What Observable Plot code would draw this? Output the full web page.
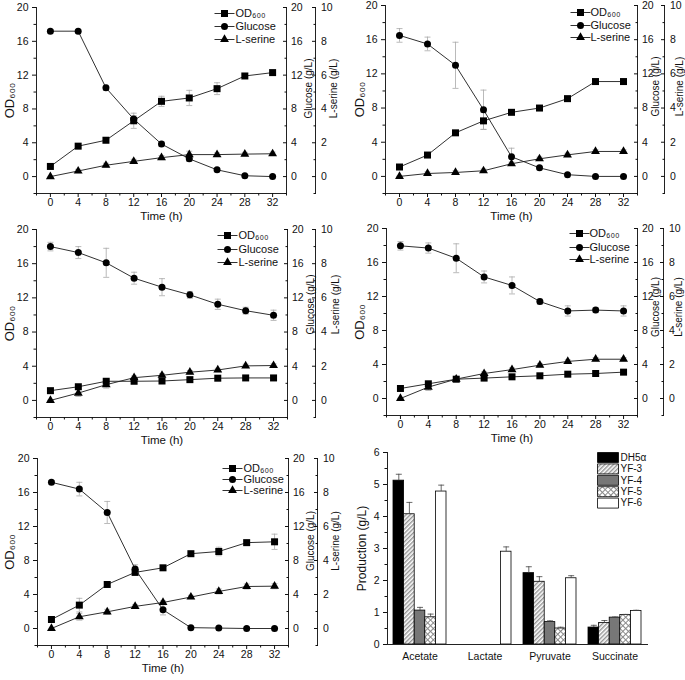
<!DOCTYPE html>
<html><head><meta charset="utf-8">
<script src="https://cdn.jsdelivr.net/npm/d3@7"></script>
<script src="https://cdn.jsdelivr.net/npm/@observablehq/plot@0.6"></script>
<style>
body{margin:0;background:#fff}
#page{position:relative;width:685px;height:680px;overflow:hidden;background:#fff;font-family:'Liberation Sans',Arial,sans-serif}
.panel{position:absolute}
.panel svg{overflow:visible}
</style></head><body><div id="page"></div>
<script>
// ---------- data ----------
const hours = [0, 4, 8, 12, 16, 20, 24, 28, 32];
const seriesNames = ["OD₆₀₀", "Glucose", "L-serine"];
const leftTicks = [0, 4, 8, 12, 16, 20];
const leftMinorTicks = [-2, 2, 6, 10, 14, 18];
const timeTicks = [0, 4, 8, 12, 16, 20, 24, 28, 32];
const timeMinorTicks = [-2, 2, 6, 10, 14, 18, 22, 26, 30, 34];
const leftAxisMax = 20, serineAxisMax = 10;
const serRatio = leftAxisMax / serineAxisMax;

// panel A
const odA = [1.2, 3.6, 4.3, 6.6, 8.9, 9.3, 10.4, 11.9, 12.3];
const odAErr = [0.1, 0.2, 0.3, 0.9, 0.6, 0.9, 0.7, 0.2, 0.2];
const glcA = [17.2, 17.2, 10.5, 6.8, 3.85, 2.1, 0.8, 0.1, 0.0];
const glcAErr = [0.2, 0.2, 0.3, 0.4, 0.3, 0.3, 0.2, 0.1, 0.1];
const serA = [0, 0.33, 0.67, 0.9, 1.12, 1.3, 1.3, 1.33, 1.35];
const serAErr = [0.02, 0.1, 0.12, 0.12, 0.12, 0.2, 0.1, 0.1, 0.1];
// panel B
const odB = [1.1, 2.5, 5.1, 6.5, 7.5, 8.0, 9.1, 11.1, 11.1];
const odBErr = [0.1, 0.2, 0.2, 1.0, 0.2, 0.2, 0.2, 0.2, 0.2];
const glcB = [16.5, 15.5, 13.0, 7.8, 2.3, 1.0, 0.2, 0.0, 0.0];
const glcBErr = [0.8, 0.8, 2.7, 2.3, 1.0, 0.2, 0.1, 0.05, 0.05];
const serB = [0, 0.17, 0.23, 0.33, 0.74, 1.03, 1.26, 1.46, 1.46];
const serBErr = [0.02, 0.1, 0.1, 0.1, 0.1, 0.1, 0.1, 0.1, 0.1];
// panel C
const odC = [1.14, 1.6, 2.24, 2.24, 2.27, 2.43, 2.6, 2.63, 2.63];
const odCErr = [0.1, 0.1, 0.2, 0.1, 0.1, 0.1, 0.1, 0.1, 0.1];
const glcC = [18.0, 17.3, 16.1, 14.3, 13.25, 12.35, 11.25, 10.5, 9.96];
const glcCErr = [0.5, 0.7, 1.7, 0.7, 1.0, 0.4, 0.6, 0.4, 0.6];
const serC = [0, 0.43, 0.92, 1.33, 1.47, 1.65, 1.78, 2.02, 2.04];
const serCErr = [0.02, 0.2, 0.2, 0.1, 0.1, 0.1, 0.1, 0.1, 0.1];
// panel D
const odD = [1.18, 1.73, 2.27, 2.4, 2.55, 2.67, 2.86, 2.94, 3.1];
const odDErr = [0.1, 0.1, 0.2, 0.1, 0.1, 0.1, 0.1, 0.1, 0.1];
const glcD = [17.96, 17.7, 16.5, 14.3, 13.3, 11.4, 10.3, 10.4, 10.3];
const glcDErr = [0.5, 0.6, 1.7, 0.7, 1.0, 0.3, 0.6, 0.3, 0.6];
const serD = [0, 0.67, 1.14, 1.47, 1.7, 1.96, 2.18, 2.31, 2.31];
const serDErr = [0.02, 0.2, 0.1, 0.1, 0.1, 0.1, 0.1, 0.1, 0.1];
// panel E
const odE = [1.06, 2.75, 5.18, 6.6, 7.14, 8.8, 9.06, 10.1, 10.2];
const odEErr = [0.1, 0.8, 0.3, 0.3, 0.2, 0.2, 0.5, 0.3, 0.9];
const glcE = [17.2, 16.4, 13.65, 7.0, 2.2, 0.1, 0.05, 0.0, 0.0];
const glcEErr = [0.2, 0.8, 1.3, 0.5, 0.6, 0.1, 0, 0, 0];
const serE = [0, 0.69, 0.98, 1.3, 1.53, 1.85, 2.18, 2.47, 2.49];
const serEErr = [0, 0.2, 0.15, 0.1, 0.1, 0.1, 0.15, 0.15, 0.15];

// panel F (bars)
const products = ["Acetate", "Lactate", "Pyruvate", "Succinate"];
const strains = ["DH5α", "YF-3", "YF-4", "YF-5", "YF-6"];
const acetate = [5.12, 4.07, 1.06, 0.85, 4.78];
const acetateErr = [0.2, 0.37, 0.1, 0.1, 0.2];
const lactate = [0, 0, 0, 0, 2.9];
const lactateErr = [0, 0, 0, 0, 0.15];
const pyruvate = [2.23, 1.96, 0.70, 0.50, 2.07];
const pyruvateErr = [0.2, 0.16, 0.04, 0.04, 0.08];
const succinate = [0.53, 0.67, 0.84, 0.92, 1.05];
const succinateErr = [0.07, 0.08, 0.02, 0.02, 0.02];
const barTicks = [0, 1, 2, 3, 4, 5, 6];
const barMinorTicks = [0.5, 1.5, 2.5, 3.5, 4.5, 5.5];

// ---------- helpers ----------
const FONT = "'Liberation Sans', Arial, Helvetica, sans-serif";
const capSym = {draw(ctx) { ctx.moveTo(-3, 0); ctx.lineTo(3, 0); }};
const lineSym = {draw(ctx) { ctx.moveTo(-10, 0); ctx.lineTo(10, 0); }};
const swatchSym = {draw(ctx) { ctx.rect(-10.5, -5, 21, 10); }};
const page = document.getElementById("page");
const mid = {textAnchor: "middle", lineAnchor: "middle"};

function place(svg, left, top) {
  const div = document.createElement("div");
  div.className = "panel";
  div.style.left = left + "px";
  div.style.top = top + "px";
  div.appendChild(svg);
  page.appendChild(div);
}

function linePanel(p) {
  const rows = hours.map((t, i) => ({
    t, od: p.od[i], odErr: p.odErr[i], glc: p.glc[i], glcErr: p.glcErr[i],
    ser: p.ser[i] * serRatio, serErr: p.serErr[i] * serRatio
  }));
  const keys = [["od", "odErr", "square", 3.95], ["glc", "glcErr", "circle", 3.5], ["ser", "serErr", "triangle", 3.3]];
  const mL = 36, mT = 8, mB = 30, mR = p.mR;
  const width = p.R - p.L + mL + mR, height = p.B - p.T + mT + mB;
  const marks = [];
  const eb = {stroke: "#a8a8a8", strokeWidth: 0.8};
  for (const [k, e] of keys) {
    const er = rows.filter(d => d[e] > 0);
    marks.push(Plot.ruleX(er, {x: "t", y1: d => d[k] - d[e], y2: d => d[k] + d[e], ...eb}));
    marks.push(Plot.dot(er, {x: "t", y: d => d[k] + d[e], symbol: capSym, ...eb}));
    marks.push(Plot.dot(er, {x: "t", y: d => d[k] - d[e], symbol: capSym, ...eb}));
  }
  for (const [k, , sym, r] of keys) {
    marks.push(Plot.line(rows, {x: "t", y: k, stroke: "#1a1a1a", strokeWidth: 0.9}));
    marks.push(Plot.dot(rows, {x: "t", y: k, symbol: sym, r, fill: "#000", stroke: "none"}));
  }
  const ax = {stroke: "#222", strokeWidth: 1};
  marks.push(
    Plot.frame({anchor: "left", ...ax}),
    Plot.frame({anchor: "bottom", ...ax}),
    Plot.frame({anchor: "right", ...ax}),
    Plot.frame({anchor: "right", dx: p.serDx, ...ax}),
    Plot.axisX({ticks: timeTicks, tickSize: 4, tickPadding: 1, fontSize: 10.5, label: null}),
    Plot.axisX({ticks: timeMinorTicks, tickSize: 2.5, tickFormat: () => "", label: null}),
    Plot.axisY({anchor: "left", ticks: leftTicks, tickSize: 4, tickPadding: 4, fontSize: 10.5, label: null}),
    Plot.axisY({anchor: "left", ticks: leftMinorTicks, tickSize: 2.5, tickFormat: () => "", label: null}),
    Plot.axisY({anchor: "right", ticks: leftTicks, tickSize: -4, tickPadding: 8.5, fontSize: 10.5, label: null}),
    Plot.axisY({anchor: "right", ticks: leftMinorTicks, tickSize: -2.5, tickFormat: () => "", label: null}),
    Plot.axisY({anchor: "right", dx: p.serDx, ticks: leftTicks, tickFormat: d => d / serRatio, tickSize: -4, tickPadding: 9.5, fontSize: 10.5, label: null}),
    Plot.axisY({anchor: "right", dx: p.serDx, ticks: leftMinorTicks, tickSize: -2.5, tickFormat: () => "", label: null}),
    Plot.text([seriesNames[0]], {text: d => d, frameAnchor: "left", rotate: -90, dx: p.odDx, fontSize: 13, ...mid}),
    Plot.text(["Glucose (g/L)"], {text: d => d, frameAnchor: "right", rotate: -90, dx: p.gdx, dy: p.gdy, fontSize: 10, ...mid}),
    Plot.text(["L-serine (g/L)"], {text: d => d, frameAnchor: "right", rotate: -90, dx: p.sdx, dy: p.gdy, fontSize: 10, ...mid}),
    Plot.text(["Time (h)"], {text: d => d, frameAnchor: "bottom", dy: 22.5, fontSize: 11.5, ...mid})
  );
  keys.forEach(([, , sym, r], i) => {
    const pos = {frameAnchor: "top-right", dx: p.lg.m, dy: p.lg.dy[i]};
    marks.push(Plot.dot([0], {...pos, symbol: lineSym, stroke: "#1a1a1a", strokeWidth: 0.9}));
    marks.push(Plot.dot([0], {...pos, symbol: sym, r, fill: "#000", stroke: "none"}));
    marks.push(Plot.text([seriesNames[i]], {text: d => d, frameAnchor: "top-right", dx: p.lg.t, dy: p.lg.dy[i], textAnchor: "start", lineAnchor: "middle", fontSize: 11}));
  });
  const svg = Plot.plot({
    width, height, marginLeft: mL, marginRight: mR, marginTop: mT, marginBottom: mB,
    x: {domain: [-2, 34]}, y: {domain: [-2, 20]},
    style: {fontFamily: FONT, fontSize: "10.5px", background: "transparent", color: "#111", overflow: "visible"},
    marks
  });
  place(svg, p.L - mL, p.T - mT);
}

const panels = [
  {od: odA, odErr: odAErr, glc: glcA, glcErr: glcAErr, ser: serA, serErr: serAErr,
   L: 36, R: 286, T: 7, B: 193, mR: 54, serDx: 29, odDx: -27, gdx: 22, sdx: 47, gdy: -12,
   lg: {m: -62, t: -51, dy: [6, 19, 32]}},
  {od: odB, odErr: odBErr, glc: glcB, glcErr: glcBErr, ser: serB, serErr: serBErr,
   L: 385, R: 637, T: 5, B: 193, mR: 48, serDx: 27, odDx: -26, gdx: 18, sdx: 42, gdy: -13,
   lg: {m: -57, t: -47, dy: [7, 20, 32]}},
  {od: odC, odErr: odCErr, glc: glcC, glcErr: glcCErr, ser: serC, serErr: serCErr,
   L: 36, R: 287, T: 229, B: 417, mR: 54, serDx: 28, odDx: -27, gdx: 23, sdx: 48, gdy: -19,
   lg: {m: -60, t: -49, dy: [6, 20, 33]}},
  {od: odD, odErr: odDErr, glc: glcD, glcErr: glcDErr, ser: serD, serErr: serDErr,
   L: 386, R: 637, T: 228, B: 415, mR: 48, serDx: 26, odDx: -27, gdx: 18, sdx: 41, gdy: -15,
   lg: {m: -58, t: -48, dy: [5, 19, 31]}},
  {od: odE, odErr: odEErr, glc: glcE, glcErr: glcEErr, ser: serE, serErr: serEErr,
   L: 37, R: 288, T: 458, B: 645, mR: 54, serDx: 29, odDx: -28, gdx: 22, sdx: 47, gdy: -11,
   lg: {m: -56, t: -45, dy: [10, 21, 32]}}
];
panels.forEach(linePanel);

// ---------- bar panel ----------
(function barPanel() {
  const values = [acetate, lactate, pyruvate, succinate];
  const errors = [acetateErr, lactateErr, pyruvateErr, succinateErr];
  const rows = products.flatMap((prod, pi) => strains.map((s, si) => ({product: prod, strain: s, value: values[pi][si], err: errors[pi][si]})));
  const L = 387, R = 647, T = 452, B = 644;
  const mL = 47, mT = 8, mB = 30, mR = 38;
  const frameW = R - L, frameH = B - T;
  const band = frameW / products.length;
  const w = 10.6, g0 = (band - strains.length * w) / 2;
  const defs = () => {
    const g = d3.create("svg:g");
    const d = g.append("defs");
    const p3 = d.append("pattern").attr("id", "patYF3").attr("patternUnits", "userSpaceOnUse")
      .attr("width", 3).attr("height", 3).attr("patternTransform", "rotate(45)");
    p3.append("rect").attr("width", 3).attr("height", 3).attr("fill", "#fff");
    p3.append("line").attr("x1", 0.75).attr("x2", 0.75).attr("y1", 0).attr("y2", 3).attr("stroke", "#8a8a8a").attr("stroke-width", 1.3);
    const p5 = d.append("pattern").attr("id", "patYF5").attr("patternUnits", "userSpaceOnUse")
      .attr("width", 4).attr("height", 4).attr("patternTransform", "rotate(45)");
    p5.append("rect").attr("width", 4).attr("height", 4).attr("fill", "#fff");
    p5.append("line").attr("x1", 0.5).attr("x2", 0.5).attr("y1", 0).attr("y2", 4).attr("stroke", "#8a8a8a").attr("stroke-width", 1);
    p5.append("line").attr("x1", 0).attr("x2", 4).attr("y1", 0.5).attr("y2", 0.5).attr("stroke", "#8a8a8a").attr("stroke-width", 1);
    return g.node();
  };
  const marks = [defs];
  strains.forEach((s, i) => {
    marks.push(Plot.barY(rows.filter(d => d.strain === s && d.value > 0), {
      x: "product", y: "value", fill: "strain", stroke: "#000", strokeWidth: 0.8,
      insetLeft: g0 + i * w, insetRight: band - g0 - (i + 1) * w
    }));
  });
  strains.forEach((s, i) => {
    const er = rows.filter(d => d.strain === s && d.err > 0);
    const dx = (i - (strains.length - 1) / 2) * w;
    marks.push(Plot.ruleX(er, {x: "product", y1: "value", y2: d => d.value + d.err, dx, stroke: "#444", strokeWidth: 0.8}));
    marks.push(Plot.dot(er, {x: "product", y: d => d.value + d.err, dx, symbol: capSym, stroke: "#444", strokeWidth: 0.8}));
  });
  const ax = {stroke: "#222", strokeWidth: 1};
  marks.push(
    Plot.frame({anchor: "left", ...ax}),
    Plot.frame({anchor: "bottom", ...ax}),
    Plot.axisY({ticks: barTicks, tickSize: 4, tickPadding: 4, tickFormat: d => String(d), fontSize: 10.5, label: null}),
    Plot.axisY({ticks: barMinorTicks, tickSize: 2.5, tickFormat: () => "", label: null}),
    Plot.axisX({tickSize: 0, tickPadding: 8, fontSize: 10.5, label: null}),
    Plot.text(["Production (g/L)"], {text: d => d, frameAnchor: "left", rotate: -90, dx: -25, fontSize: 12, ...mid})
  );
  strains.forEach((s, i) => {
    const dy = 5 + i * 11.4;
    marks.push(Plot.dot([s], {frameAnchor: "top-right", dx: -39.5, dy, symbol: swatchSym, fill: d => d, stroke: "#000", strokeWidth: 0.8}));
    marks.push(Plot.text([s], {text: d => d, frameAnchor: "top-right", dx: -27, dy, textAnchor: "start", lineAnchor: "middle", fontSize: 10}));
  });
  const svg = Plot.plot({
    width: frameW + mL + mR, height: frameH + mT + mB,
    marginLeft: mL, marginRight: mR, marginTop: mT, marginBottom: mB,
    x: {domain: products, paddingInner: 0, paddingOuter: 0},
    y: {domain: [0, 6]},
    color: {type: "ordinal", domain: strains, range: ["#000", "url(#patYF3)", "#777", "url(#patYF5)", "#fff"]},
    style: {fontFamily: FONT, fontSize: "10.5px", background: "transparent", color: "#111", overflow: "visible"},
    marks
  });
  place(svg, L - mL, T - mT);
})();
</script></body></html>
